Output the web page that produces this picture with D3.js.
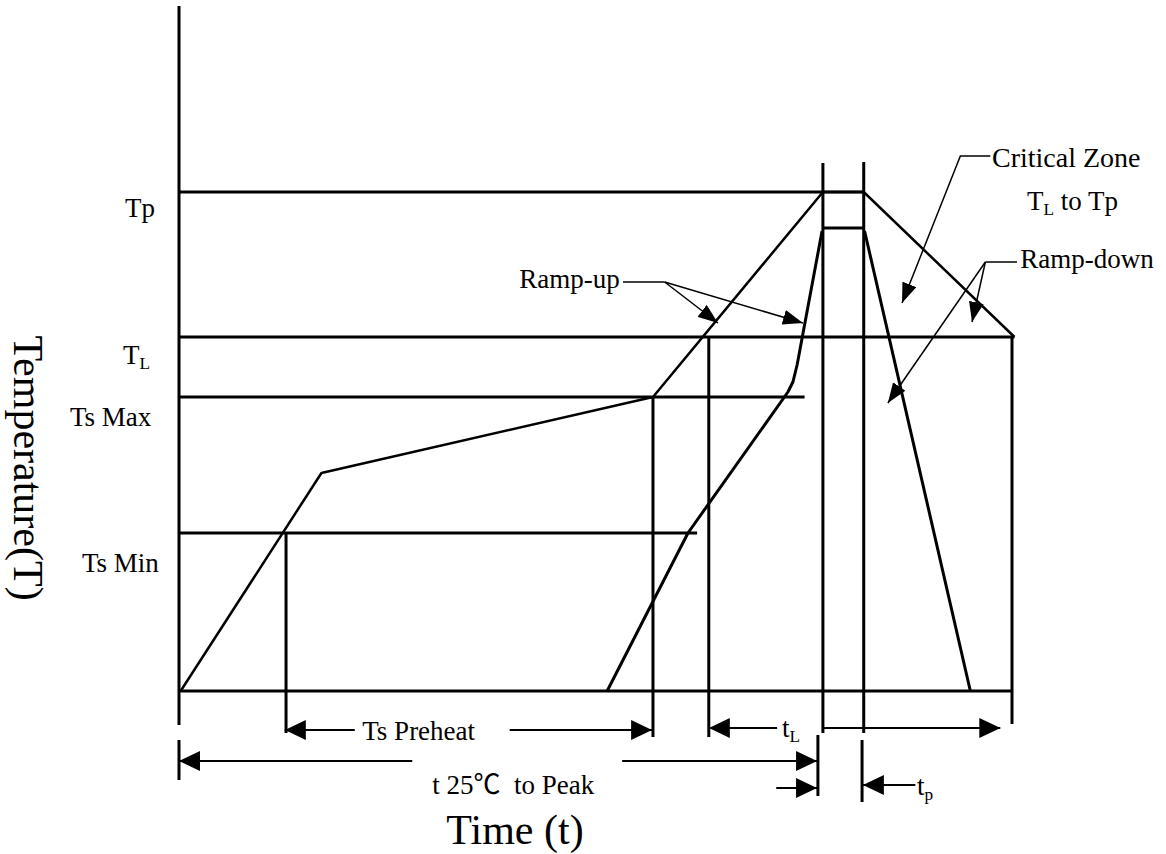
<!DOCTYPE html>
<html><head><meta charset="utf-8">
<script src="https://cdn.jsdelivr.net/npm/d3@7"></script>
<style>
body{margin:0;background:#fff}
svg text{font-family:"Liberation Serif","Times New Roman","Noto Sans CJK SC",serif;fill:#000;white-space:pre}
</style>
</head><body>
<svg id="chart" width="1166" height="854"></svg>
<script>
// ---- Data (schematic units: time 0..100, temperature 0..100) ----
const levelNames   = ["Tp", "TL", "Ts Max", "Ts Min"];
const levelValues  = [99.8, 70.8, 58.8, 31.6];
const levelEnds    = [82.2, 100.3, 75.1, 62.2];

const outerTime = [0.2, 17.1, 56.9, 77.3, 82.2, 100.3];
const outerTemp = [0, 43.6, 58.8, 99.8, 99.8, 70.8];

const innerTime = [51.4, 61.1, 73.1, 73.7, 74.2, 77.2];
const innerTemp = [0, 31.6, 59.8, 61.8, 65.2, 92.0];
const plateauTime = [77.3, 82.2];
const plateauTemp = [92.6, 92.6];
const rampDownTime = [82.3, 95.0];
const rampDownTemp = [92.0, 0];

const vTimes   = [12.85, 56.9, 63.6, 77.3, 82.2, 100];
const vTops    = [31.6, 58.8, 70.8, 105.6, 105.8, 70.8];
const vBottoms = [-8.4, -9.2, -9.2, -8.4, -8.4, -6.6];

// ---- Layout ----
const W = 1166, H = 854;
const svg = d3.select("#chart");
svg.append("rect").attr("width", W).attr("height", H).attr("fill", "#fff");
const x = d3.scaleLinear().domain([0, 100]).range([179, 1012]);
const y = d3.scaleLinear().domain([0, 100]).range([691, 191]);
const line = d3.line().x(d => x(d[0])).y(d => y(d[1]));
const zip = (a, b) => a.map((v, i) => [v, b[i]]);

const defs = svg.append("defs");
function marker(id, len, wid) {
  defs.append("marker").attr("id", id)
    .attr("viewBox", `0 0 ${len} ${wid}`).attr("refX", len).attr("refY", wid / 2)
    .attr("markerWidth", len).attr("markerHeight", wid)
    .attr("markerUnits", "userSpaceOnUse").attr("orient", "auto")
    .append("path").attr("d", `M0,0L${len},${wid / 2}L0,${wid}Z`).attr("fill", "#000");
}
marker("big", 21, 20);
marker("small", 20, 15);

const g = svg.append("g").attr("fill", "none").attr("stroke", "#000");

function seg(pts, width, mk) {
  const p = g.append("path").attr("d", line(pts)).attr("stroke-width", width);
  if (mk) p.attr("marker-end", `url(#${mk})`);
  return p;
}

// axes
seg([[0, 137], [0, -6.8]], 3);
seg([[0, 0], [100, 0]], 3);

// horizontal level lines
levelValues.forEach((v, i) => seg([[0, v], [levelEnds[i], v]], 3));

// vertical marker lines
vTimes.forEach((t, i) => seg([[t, vTops[i]], [t, vBottoms[i]]], 3));

// profiles
seg(zip(outerTime, outerTemp), 2.5).attr("stroke-linejoin", "round");
seg(zip(innerTime, innerTemp), 3).attr("stroke-linejoin", "round");
seg(zip(plateauTime, plateauTemp), 3);
seg(zip(rampDownTime, rampDownTemp), 3);

// lower dimension lines
seg([[76.7, -8.8], [76.7, -21.0]], 3);
seg([[82.0, -9.8], [82.0, -22.2]], 3);
seg([[0, -9.8], [0, -17.8]], 3);

// dimension arrows
seg([[21.1, -7.8], [12.7, -7.8]], 2, "big");
seg([[39.7, -7.8], [56.8, -7.8]], 2, "big");
seg([[28.0, -14], [0.0, -14]], 2, "big");
seg([[53.2, -14], [76.6, -14]], 2, "big");
seg([[71.8, -7.4], [63.6, -7.4]], 2, "big");
seg([[77.2, -7.4], [98.6, -7.4]], 2, "big");
seg([[71.7, -19.4], [76.6, -19.4]], 2, "big");
seg([[88.4, -18.8], [82.1, -18.8]], 2, "big");

// callouts
seg([[53.3, 81.8], [58.3, 81.8]], 1.5);
seg([[58.3, 81.8], [64.7, 73.6]], 1.5, "small");
seg([[58.3, 81.8], [74.9, 73.6]], 1.5, "small");
seg([[97.4, 107], [93.8, 107], [86.8, 77.6]], 1.5, "small");
seg([[100.6, 85.8], [96.8, 85.8]], 1.5);
seg([[96.8, 85.8], [95.2, 73.8]], 1.5, "small");
seg([[96.8, 85.8], [85.1, 57.6]], 1.5, "small");

// ---- Text ----
const FS = 27;
function label(px, py, parts, size, anchor) {
  const s = size || FS;
  const t = svg.append("text").attr("x", px).attr("y", py)
    .attr("font-size", s).attr("text-anchor", anchor || "start");
  parts.forEach(p => {
    if (typeof p === "string") t.append("tspan").text(p);
    else t.append("tspan").attr("font-size", p.full ? s : s * 0.64).attr("dy", p.dy).text(p.t);
  });
  return t;
}
function sub(t) { return { t: t, dy: 5 }; }

// level labels
const levelLabelX = [125, 123, 70, 82];
const levelLabelDy = [25, 27, 29, 39];
label(levelLabelX[0], y(levelValues[0]) + levelLabelDy[0], ["Tp"]);
label(levelLabelX[1], y(levelValues[1]) + levelLabelDy[1], ["T", sub("L")]);
label(levelLabelX[2], y(levelValues[2]) + levelLabelDy[2], ["Ts Max"]);
label(levelLabelX[3], y(levelValues[3]) + levelLabelDy[3], ["Ts Min"]);

label(x(52.9), y(80.6), ["Ramp-up"], FS, "end");
label(x(97.6), y(104.8), ["Critical Zone"], 28);
label(x(101.8), y(96.2), ["T", sub("L"), { t: " to Tp", dy: -5, full: true }]);
label(x(101.0), y(84.6), ["Ramp-down"]);
label(x(22.0), y(-9.8), ["Ts Preheat"]);
label(x(30.4), y(-20.6), ["t 25℃  to Peak"]);
label(x(72.4), y(-9.2), ["t", sub("L")]);
label(x(88.6), y(-20.8), ["t", sub("p")]);

// axis titles
label(515, 844, ["Time (t)"], 42, "middle");
svg.append("text").attr("transform", "translate(14,468) rotate(90)")
  .attr("text-anchor", "middle").attr("font-size", 42).text("Temperature(T)");
</script>
</body></html>
